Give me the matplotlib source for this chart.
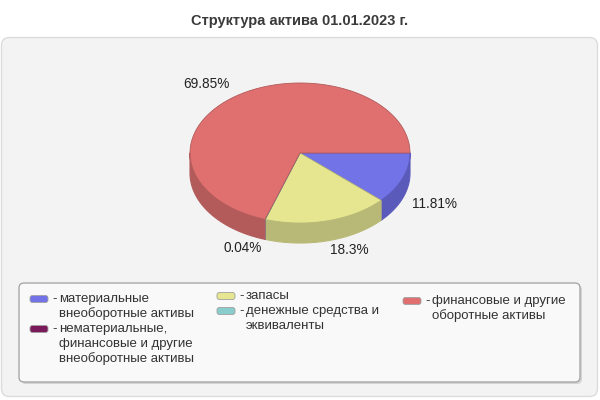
import numpy as np
import matplotlib
matplotlib.use("Agg")
import matplotlib.pyplot as plt
from matplotlib.patches import Polygon, FancyBboxPatch

plt.rcParams['font.family'] = ['Liberation Sans', 'DejaVu Sans']

title = "Структура актива 01.01.2023 г."
categories = [
    "материальные\nвнеоборотные активы",
    "нематериальные,\nфинансовые и другие\nвнеоборотные активы",
    "запасы",
    "денежные средства и\nэквиваленты",
    "финансовые и другие\nоборотные активы",
]
values = [11.81, 0.0, 18.3, 0.04, 69.85]
top_colors = ["#7373e8", "#7a1a5a", "#e6e690", "#88cccc", "#e07070"]
side_colors = ["#5a5abb", "#5a1040", "#b9b977", "#66a0a0", "#b35a5a"]

fig = plt.figure(figsize=(6, 4), dpi=100)
ax = fig.add_axes([0, 0, 1, 1])
ax.set_xlim(0, 600)
ax.set_ylim(400, 0)
ax.axis('off')

# background panel
ax.add_patch(FancyBboxPatch((1.5, 37.5), 596, 359, boxstyle="round,pad=0,rounding_size=8",
                            fc="#f3f3f3", ec="#dcdcdc", lw=1))
ax.text(300, 21, title, ha='center', va='center', fontsize=10.5, fontweight='bold', color='#3a3a3a')

# 3D pie
cx, cy, rx, ry, depth = 300, 153, 110, 70, 20
total = sum(values)
angles = np.cumsum([0] + [v / total * 360 for v in values])

def arc(a0, a1, n=200):
    t = np.radians(np.linspace(a0, a1, n))
    return cx + rx * np.cos(t), cy + ry * np.sin(t)

# side walls (front half only: 0..180 deg in screen coords)
for i, v in enumerate(values):
    if v <= 0:
        continue
    a0, a1 = angles[i], angles[i + 1]
    for lo, hi in [(0, 180), (360, 540)]:
        s, e = max(a0, lo), min(a1, hi)
        if e > s:
            xs, ys = arc(s, e)
            pts = np.concatenate([np.column_stack([xs, ys]),
                                  np.column_stack([xs[::-1], ys[::-1] + depth])])
            ax.add_patch(Polygon(pts, closed=True, fc=side_colors[i],
                                 ec=side_colors[i], lw=0.8, joinstyle='round'))

# tops
for i, v in enumerate(values):
    if v <= 0:
        continue
    a0, a1 = angles[i], angles[i + 1]
    xs, ys = arc(a0, a1)
    pts = np.concatenate([[[cx, cy]], np.column_stack([xs, ys])])
    ax.add_patch(Polygon(pts, closed=True, fc=top_colors[i], ec=side_colors[i], lw=0.6))

# percentage labels
k = 1.09
for i, v in enumerate(values):
    if v <= 0:
        continue
    mid = np.radians((angles[i] + angles[i + 1]) / 2)
    c, s = np.cos(mid), np.sin(mid)
    x = cx + rx * k * c
    y = cy + ry * k * s
    ha = 'left' if c >= 0 else 'right'
    if s > 0:
        y += 23
        va = 'center'
    else:
        va = 'bottom'
    ax.text(x, y, f"{v:g}%", ha=ha, va=va, fontsize=9.8, color='#222222')

# legend box with shadow
ax.add_patch(FancyBboxPatch((21, 285), 561, 99, boxstyle="round,pad=0,rounding_size=5",
                            fc="#d4d4d4", ec="none"))
ax.add_patch(FancyBboxPatch((19, 283), 561, 99, boxstyle="round,pad=0,rounding_size=5",
                            fc="#f9f9f9", ec="#a8a8a8", lw=1))

# legend entries: (swatch x, first-line y)
legend_pos = [(30, 299), (30, 329), (217, 296), (217, 311), (403, 301)]
line_h = 14.8
for i, lab in enumerate(categories):
    sx, ly = legend_pos[i]
    ax.add_patch(FancyBboxPatch((sx, ly - 3.5), 18, 7, boxstyle="round,pad=0,rounding_size=2.5",
                                fc=top_colors[i], ec="#a0a0a0", lw=0.6))
    ax.text(sx + 22, ly, "-", ha='left', va='center', fontsize=9.5, color='#333333')
    for j, line in enumerate(lab.split("\n")):
        ax.text(sx + 29, ly + j * line_h, line, ha='left', va='center', fontsize=9.5, color='#333333')

fig.savefig("out.png", dpi=100)
